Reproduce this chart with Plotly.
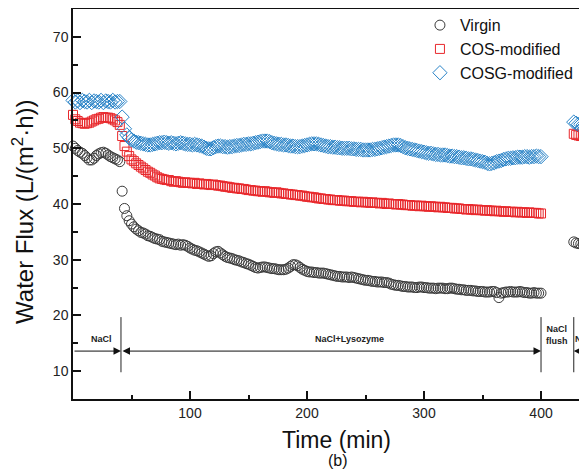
import plotly.graph_objects as go

# sampling grid (min): NaCl, NaCl+Lysozyme, NaCl after flush
time_nacl = list(range(0, 41, 2))
time_lys = list(range(42, 401, 2))
time_after = list(range(428, 441, 2))

virgin_nacl = [50.4, 50.0, 49.6, 49.3, 49.1, 48.7, 48.3, 47.9, 47.9, 48.2, 48.7,
               49.0, 49.2, 49.3, 49.1, 48.8, 48.5, 48.3, 48.1, 47.9, 47.6]
virgin_lys = [
    42.3, 39.2, 37.9, 37.0, 36.4, 35.9, 35.5, 35.2, 34.9, 34.8,
    34.6, 34.3, 34.2, 34.0, 33.8, 33.7, 33.6, 33.3, 33.2, 33.1,
    33.0, 32.9, 32.8, 32.7, 32.8, 32.6, 32.7, 32.6, 32.4, 32.1,
    31.9, 31.7, 31.6, 31.4, 31.2, 31.0, 30.8, 30.6, 30.7, 31.1,
    31.4, 31.5, 31.2, 30.9, 30.6, 30.4, 30.3, 30.2, 30.0, 29.9,
    29.8, 29.6, 29.5, 29.3, 29.2, 29.0, 28.8, 28.6, 28.5, 28.6,
    28.7, 28.7, 28.6, 28.5, 28.4, 28.4, 28.3, 28.2, 28.2, 28.2,
    28.3, 28.5, 28.8, 29.1, 29.1, 28.9, 28.6, 28.3, 28.1, 27.9,
    27.8, 27.8, 27.7, 27.7, 27.6, 27.6, 27.6, 27.5, 27.4, 27.3,
    27.2, 27.1, 27.0, 27.0, 26.9, 26.9, 26.9, 26.8, 26.9, 26.8,
    26.7, 26.6, 26.5, 26.4, 26.3, 26.3, 26.2, 26.1, 26.1, 26.0,
    26.0, 26.0, 25.9, 25.9, 25.8, 25.6, 25.5, 25.4, 25.4, 25.3,
    25.2, 25.2, 25.1, 25.1, 25.1, 25.0, 25.0, 25.1, 25.1, 25.0,
    25.0, 24.9, 24.9, 24.9, 24.8, 24.9, 24.9, 24.9, 24.8, 24.8,
    24.9, 24.9, 24.8, 24.7, 24.7, 24.6, 24.6, 24.5, 24.5, 24.5,
    24.4, 24.4, 24.3, 24.3, 24.3, 24.2, 24.2, 24.2, 24.3, 24.3,
    24.1, 23.2, 24.0, 24.1, 24.2, 24.2, 24.3, 24.2, 24.2, 24.2,
    24.3, 24.2, 24.1, 24.1, 24.0, 24.0, 24.1, 24.0, 24.0, 24.0,
]
virgin_after = [33.2, 33.0, 32.9, 32.8, 32.8, 32.7, 32.6]

cos_nacl = [56.0, 55.2, 54.9, 54.6, 54.5, 54.4, 54.5, 54.6, 54.8, 55.0, 55.2,
            55.3, 55.5, 55.6, 55.5, 55.5, 55.4, 55.2, 55.0, 54.7, 54.2]
cos_lys = [
    52.2, 50.4, 49.4, 48.6, 48.0, 47.7, 47.3, 47.0, 46.7, 46.4,
    46.1, 45.8, 45.6, 45.3, 45.1, 44.8, 44.6, 44.5, 44.4, 44.3,
    44.3, 44.1, 44.0, 44.1, 44.0, 43.9, 43.8, 43.9, 43.8, 43.8,
    43.7, 43.8, 43.6, 43.7, 43.6, 43.5, 43.6, 43.5, 43.4, 43.5,
    43.4, 43.3, 43.3, 43.2, 43.1, 43.1, 43.0, 42.9, 42.9, 42.8,
    42.8, 42.7, 42.7, 42.6, 42.5, 42.5, 42.4, 42.4, 42.3, 42.3,
    42.2, 42.3, 42.2, 42.1, 42.1, 42.0, 42.1, 42.0, 41.9, 41.9,
    41.8, 41.8, 41.7, 41.7, 41.6, 41.6, 41.5, 41.5, 41.4, 41.3,
    41.3, 41.2, 41.2, 41.1, 41.0, 41.0, 40.9, 40.9, 40.8, 40.8,
    40.7, 40.7, 40.7, 40.6, 40.6, 40.6, 40.5, 40.5, 40.5, 40.4,
    40.4, 40.4, 40.3, 40.4, 40.3, 40.3, 40.2, 40.3, 40.2, 40.2,
    40.1, 40.2, 40.1, 40.0, 40.1, 40.0, 40.0, 39.9, 40.0, 39.9,
    39.9, 39.8, 39.8, 39.8, 39.7, 39.7, 39.7, 39.6, 39.7, 39.6,
    39.6, 39.5, 39.6, 39.5, 39.5, 39.4, 39.5, 39.4, 39.4, 39.3,
    39.3, 39.3, 39.2, 39.2, 39.2, 39.1, 39.1, 39.0, 39.1, 39.0,
    39.0, 38.9, 39.0, 38.9, 38.9, 38.8, 38.9, 38.8, 38.8, 38.7,
    38.8, 38.7, 38.7, 38.6, 38.7, 38.6, 38.6, 38.6, 38.5, 38.6,
    38.5, 38.5, 38.5, 38.4, 38.5, 38.4, 38.4, 38.4, 38.3, 38.3,
]
cos_after = [52.6, 52.4, 52.3, 52.2, 52.2, 52.1, 52.0]

cosg_nacl = [58.6, 58.3, 58.5, 58.2, 58.6, 58.4, 58.3, 58.6, 58.2, 58.5, 58.4,
             58.3, 58.6, 58.2, 58.5, 58.4, 58.3, 58.6, 58.3, 58.4, 58.4]
cosg_lys = [
    55.6, 53.5, 52.4, 51.9, 51.5, 51.3, 51.1, 51.0, 50.9, 50.8,
    50.7, 50.6, 50.6, 50.7, 50.8, 50.9, 51.0, 51.0, 51.1, 51.0,
    50.9, 51.0, 50.9, 50.8, 50.9, 51.0, 50.9, 50.8, 50.7, 50.7,
    50.6, 50.7, 50.6, 50.5, 50.4, 50.2, 50.0, 49.9, 49.9, 50.1,
    50.3, 50.4, 50.4, 50.3, 50.3, 50.2, 50.3, 50.3, 50.4, 50.5,
    50.5, 50.6, 50.7, 50.7, 50.8, 50.8, 50.9, 51.0, 51.1, 51.2,
    51.3, 51.3, 51.3, 51.2, 51.0, 50.9, 50.8, 50.7, 50.7, 50.6,
    50.6, 50.5, 50.4, 50.4, 50.3, 50.3, 50.3, 50.4, 50.5, 50.6,
    50.7, 50.8, 50.8, 50.8, 50.7, 50.6, 50.5, 50.4, 50.3, 50.3,
    50.2, 50.2, 50.1, 50.1, 50.0, 50.0, 50.0, 50.0, 49.9, 49.9,
    49.8, 49.8, 49.8, 49.7, 49.7, 49.7, 49.7, 49.8, 49.8, 49.9,
    50.0, 50.1, 50.2, 50.3, 50.4, 50.5, 50.6, 50.6, 50.6, 50.5,
    50.3, 50.1, 50.0, 49.9, 49.8, 49.7, 49.6, 49.5, 49.4, 49.3,
    49.2, 49.1, 49.1, 49.0, 48.9, 48.9, 48.8, 48.8, 48.8, 48.7,
    48.6, 48.6, 48.5, 48.5, 48.4, 48.3, 48.3, 48.2, 48.1, 48.1,
    48.0, 47.9, 47.8, 47.7, 47.6, 47.5, 47.3, 47.2, 47.3, 47.4,
    47.6, 47.7, 47.8, 48.0, 48.1, 48.2, 48.2, 48.3, 48.3, 48.4,
    48.4, 48.4, 48.5, 48.5, 48.4, 48.5, 48.5, 48.6, 48.5, 48.5,
]
cosg_after = [54.7, 54.5, 54.3, 54.3, 54.2, 54.1, 54.1]

# stage markers along the bottom
stage_bounds = [41, 400, 428]

FONT = "Arial, Liberation Sans, sans-serif"

series = [
    ("Virgin", "circle-open", "#3a3a3a", 10, virgin_nacl, virgin_lys, virgin_after),
    ("COS-modified", "square-open", "#e8282c", 9, cos_nacl, cos_lys, cos_after),
    ("COSG-modified", "diamond-open", "#2a84c8", 11, cosg_nacl, cosg_lys, cosg_after),
]

fig = go.Figure()
t_all = time_nacl + time_lys + time_after
for name, sym, col, size, a, b, c in series:
    vals = a + b + c
    assert len(vals) == len(t_all), name
    fig.add_trace(go.Scatter(
        x=t_all, y=vals, mode="markers", name=name, cliponaxis=False,
        marker=dict(symbol=sym, size=size, color=col, line=dict(width=1, color=col)),
    ))

# annotation lines: horizontal baseline + stage separators
y_base = 13.6
for xb in stage_bounds:
    fig.add_shape(type="line", x0=xb, x1=xb, y0=9.8, y1=19.7,
                  line=dict(color="#222", width=1))

arrow = dict(text="", showarrow=True, axref="x", ayref="y", arrowcolor="#111",
             arrowwidth=1, arrowhead=2, arrowsize=1.5, standoff=0, startstandoff=0)
fig.add_annotation(x=41, y=y_base, ax=0, ay=y_base, **arrow)
fig.add_annotation(x=400, y=y_base, ax=41, ay=y_base, arrowside="end+start",
                   startarrowhead=2, startarrowsize=1.5, **arrow)
fig.add_annotation(x=428, y=y_base, ax=460, ay=y_base, **arrow)

lab = dict(showarrow=False, font=dict(family=FONT, size=9, color="#222"))
fig.add_annotation(x=24, y=15.7, text="<b>NaCl</b>", **lab)
fig.add_annotation(x=236, y=15.7, text="<b>NaCl+Lysozyme</b>", **lab)
fig.add_annotation(x=414, y=16.5, text="<b>NaCl<br>flush</b>", **lab)
fig.add_annotation(x=428.6, y=15.7, text="<b>Na</b>", xanchor="left",
                   borderpad=0, **lab)

# axis titles and panel label
fig.add_annotation(xref="paper", yref="paper", x=-0.097, y=0.48, textangle=-90,
                   xanchor="center", yanchor="middle",
                   text="Water Flux (L/(m<sup>2</sup>·h))", showarrow=False,
                   font=dict(family=FONT, size=24, color="#111"))
fig.add_annotation(xref="paper", yref="paper", x=0.512, y=-0.105,
                   xanchor="center", yanchor="middle",
                   text="Time (min)", showarrow=False,
                   font=dict(family=FONT, size=23, color="#111"))
fig.add_annotation(xref="paper", yref="paper", x=0.516, y=-0.157,
                   xanchor="center", yanchor="middle",
                   text="(b)", showarrow=False,
                   font=dict(family=FONT, size=16, color="#111"))

fig.update_xaxes(
    range=[0, 439.3], tickvals=[100, 200, 300, 400], ticks="inside", ticklen=8,
    tickwidth=1.5, tickcolor="#111", showline=True, linecolor="#111", linewidth=1.5,
    mirror=True, showgrid=False, zeroline=False,
    tickfont=dict(family=FONT, size=14, color="#222"),
    minor=dict(tickvals=[50, 150, 250, 350], ticks="inside", ticklen=4,
               tickcolor="#111", tickwidth=1.5),
)
fig.update_yaxes(
    range=[5, 75], tickvals=[10, 20, 30, 40, 50, 60, 70], ticks="inside", ticklen=8,
    tickwidth=1.5, tickcolor="#111", showline=True, linecolor="#111", linewidth=1.5,
    showgrid=False, zeroline=False,
    tickfont=dict(family=FONT, size=14, color="#222"),
    minor=dict(tickvals=[15, 25, 35, 45, 55, 65], ticks="inside", ticklen=5,
               tickcolor="#111", tickwidth=1.5),
)

# the page body adds an 8px offset, so the figure is sized to the visible part
fig.update_layout(
    width=579, height=466,
    margin=dict(l=65, r=0, t=1, b=75),
    paper_bgcolor="white", plot_bgcolor="white",
    showlegend=True,
    legend=dict(x=0.675, y=1.002, xanchor="left", yanchor="top",
                bgcolor="rgba(0,0,0,0)", borderwidth=0, tracegroupgap=0,
                font=dict(family=FONT, size=16, color="#111")),
)

fig.write_html("out.html")
